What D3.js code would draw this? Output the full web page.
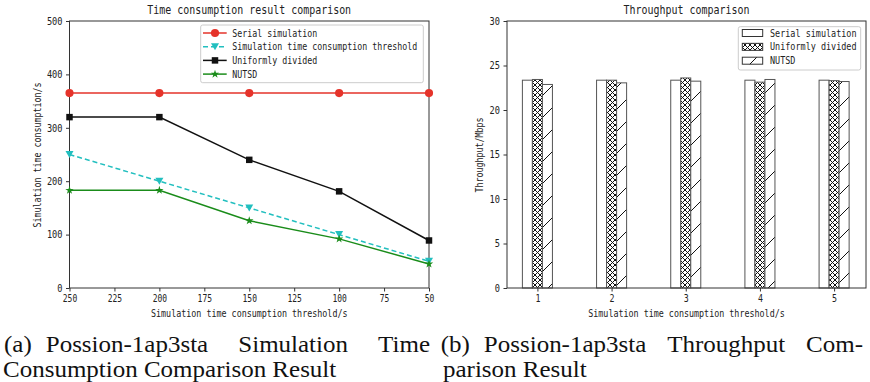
<!DOCTYPE html>
<html>
<head>
<meta charset="utf-8">
<script src="https://cdn.jsdelivr.net/npm/d3@7"></script>
<style>
  body { margin: 0; background: #fff; }
  svg { display: block; }
  .mono { font-family: "DejaVu Sans Mono", "Liberation Mono", monospace; fill: #222; }
  .cap { font-family: "Liberation Serif", "Times New Roman", serif; font-size: 23.5px; fill: #111; }
</style>
</head>
<body>
<div id="chart"></div>
<script>
// ---- data (a): simulation time consumption
const thresholds = [250, 200, 150, 100, 50];
const serialTime = [365, 365, 365, 365, 365];
const thresholdTime = [250, 200, 150, 100, 50];
const uniformTime = [320, 320, 240, 181, 89];
const nutsdTime = [183, 183, 126, 92, 45];
const timeTicks = [250, 225, 200, 175, 150, 125, 100, 75, 50];

// ---- data (b): throughput
const groups = [1, 2, 3, 4, 5];
const serialTp = [23.35, 23.35, 23.35, 23.35, 23.35];
const uniformTp = [23.43, 23.35, 23.6, 23.13, 23.3];
const nutsdTp = [22.87, 23.05, 23.24, 23.43, 23.2];

// ---- subcaption lines
const captionA = ["(a) Possion-1ap3sta Simulation Time", "Consumption Comparison Result"];
const captionB = ["(b) Possion-1ap3sta Throughput Com-", "parison Result"];

const W = 870, H = 382;
const svg = d3.select("#chart").append("svg").attr("width", W).attr("height", H);

// SimHei-like narrow text: a monospace font squeezed horizontally to a fixed char width
function mono(sel, size, charW) {
  const sx = charW / (0.602 * size);
  sel.attr("class", "mono")
     .style("font-size", size + "px")
     .each(function() {
       const t = d3.select(this);
       const x = +(t.attr("x") || 0);
       const tr = t.attr("transform") || "";
       t.attr("x", x / sx).attr("transform", `${tr} scale(${sx},1)`);
     });
  return sel;
}

const defs = svg.append("defs");
defs.append("pattern").attr("id", "xx").attr("patternUnits", "userSpaceOnUse")
  .attr("width", 5).attr("height", 5)
  .call(p => {
    p.append("path").attr("d", "M0,0L5,5M5,0L0,5M-1,4L1,6M4,-1L6,1M-1,1L1,-1M4,6L6,4")
      .attr("stroke", "#111").attr("stroke-width", 1);
  });
defs.append("pattern").attr("id", "slash").attr("patternUnits", "userSpaceOnUse")
  .attr("width", 22).attr("height", 22)
  .call(p => {
    p.append("path").attr("d", "M0,22L22,0M-2,2L2,-2M20,24L24,20")
      .attr("stroke", "#111").attr("stroke-width", 1);
  });

// ================= (a) line chart =================
const A = {left: 69.5, right: 429, top: 21, bottom: 288};
const xa = d3.scaleLinear().domain([250, 50]).range([A.left, A.right]);
const ya = d3.scaleLinear().domain([0, 500]).range([A.bottom, A.top]);

const gA = svg.append("g");
gA.append("g").attr("transform", `translate(0,${A.bottom})`)
  .call(d3.axisBottom(xa).tickValues(timeTicks).tickSize(3.5).tickPadding(3.5).tickFormat(d3.format("d")))
  .call(g => g.select(".domain").remove())
  .call(g => g.selectAll("line").attr("stroke", "#333"))
  .call(g => mono(g.selectAll("text"), 10, 4.8));
gA.append("g").attr("transform", `translate(${A.left},0)`)
  .call(d3.axisLeft(ya).ticks(5).tickSize(3.5).tickPadding(3.5))
  .call(g => g.select(".domain").remove())
  .call(g => g.selectAll("line").attr("stroke", "#333"))
  .call(g => mono(g.selectAll("text"), 10, 5.2));
gA.append("rect").attr("x", A.left).attr("y", A.top)
  .attr("width", A.right - A.left).attr("height", A.bottom - A.top)
  .attr("fill", "none").attr("stroke", "#333").attr("stroke-width", 1);

const seriesA = [
  {name: "Serial simulation", vals: serialTime, color: "#e5332a", dash: null, sym: d3.symbolCircle, size: 52},
  {name: "Simulation time consumption threshold", vals: thresholdTime, color: "#22bfbf", dash: "5,3", sym: "tri", size: 40},
  {name: "Uniformly divided", vals: uniformTime, color: "#111", dash: null, sym: d3.symbolSquare, size: 42},
  {name: "NUTSD", vals: nutsdTime, color: "#1a8c1a", dash: null, sym: d3.symbolStar, size: 22}
];
function marker(g, s, x, y) {
  if (s.sym === "tri") {
    g.append("path").attr("d", "M-4,-3.5L4,-3.5L0,3.5Z").attr("transform", `translate(${x},${y})`).attr("fill", s.color);
  } else {
    g.append("path").attr("d", d3.symbol().type(s.sym).size(s.size)()).attr("transform", `translate(${x},${y})`).attr("fill", s.color);
  }
}
const lineA = d3.line().x((d, i) => xa(thresholds[i])).y(d => ya(d));
seriesA.forEach(s => {
  gA.append("path").datum(s.vals).attr("d", lineA).attr("fill", "none")
    .attr("stroke", s.color).attr("stroke-width", 1.5).attr("stroke-dasharray", s.dash);
  s.vals.forEach((v, i) => marker(gA, s, xa(thresholds[i]), ya(v)));
});

mono(gA.append("text").attr("x", (A.left + A.right) / 2).attr("y", 14).attr("text-anchor", "middle")
  .text("Time consumption result comparison"), 12, 6);
mono(gA.append("text").attr("x", (A.left + A.right) / 2).attr("y", 317).attr("text-anchor", "middle")
  .text("Simulation time consumption threshold/s"), 10, 5.04);
mono(gA.append("text").attr("transform", "translate(40.5,155) rotate(-90)").attr("text-anchor", "middle")
  .text("Simulation time consumption/s"), 10, 5.0);

// legend (a)
const legA = gA.append("g");
legA.append("rect").attr("x", 200.7).attr("y", 25).attr("width", 222.6).attr("height", 57.7)
  .attr("rx", 2).attr("fill", "#fff").attr("fill-opacity", 0.85).attr("stroke", "#ccc");
seriesA.forEach((s, i) => {
  const y = 33 + i * 13.7;
  legA.append("line").attr("x1", 203).attr("x2", 226.7).attr("y1", y).attr("y2", y)
    .attr("stroke", s.color).attr("stroke-width", 1.5).attr("stroke-dasharray", s.dash);
  marker(legA, s, 215, y);
  mono(legA.append("text").attr("x", 232.3).attr("y", y).attr("dy", "0.36em").text(s.name), 10, 5.0);
});

// ================= (b) bar chart =================
const B = {left: 507, right: 866, top: 21, bottom: 288};
const xb = d3.scaleLinear().domain([0.59, 5.43]).range([B.left, B.right]);
const yb = d3.scaleLinear().domain([0, 30]).range([B.bottom, B.top]);
const bw = 0.135;

const gB = svg.append("g");
gB.append("g").attr("transform", `translate(0,${B.bottom})`)
  .call(d3.axisBottom(xb).tickValues(groups).tickSize(3.5).tickPadding(3.5).tickFormat(d3.format("d")))
  .call(g => g.select(".domain").remove())
  .call(g => g.selectAll("line").attr("stroke", "#333"))
  .call(g => mono(g.selectAll("text"), 10, 5));
gB.append("g").attr("transform", `translate(${B.left},0)`)
  .call(d3.axisLeft(yb).ticks(6).tickSize(3.5).tickPadding(3.5))
  .call(g => g.select(".domain").remove())
  .call(g => g.selectAll("line").attr("stroke", "#333"))
  .call(g => mono(g.selectAll("text"), 10, 5.2));

const seriesB = [
  {name: "Serial simulation", vals: serialTp, fill: "#fff", off: -1},
  {name: "Uniformly divided", vals: uniformTp, fill: "url(#xx)", off: 0},
  {name: "NUTSD", vals: nutsdTp, fill: "url(#slash)", off: 1}
];
seriesB.forEach(s => {
  gB.selectAll(null).data(s.vals).join("rect")
    .attr("x", (d, i) => xb(groups[i] + s.off * bw - bw / 2))
    .attr("width", xb(bw) - xb(0))
    .attr("y", d => yb(d))
    .attr("height", d => yb(0) - yb(d))
    .attr("fill", "#fff").attr("stroke", "none");
  gB.selectAll(null).data(s.vals).join("rect")
    .attr("x", (d, i) => xb(groups[i] + s.off * bw - bw / 2))
    .attr("width", xb(bw) - xb(0))
    .attr("y", d => yb(d))
    .attr("height", d => yb(0) - yb(d))
    .attr("fill", s.fill).attr("stroke", "#555").attr("stroke-width", 1);
});
gB.append("rect").attr("x", B.left).attr("y", B.top)
  .attr("width", B.right - B.left).attr("height", B.bottom - B.top)
  .attr("fill", "none").attr("stroke", "#333").attr("stroke-width", 1);

mono(gB.append("text").attr("x", (B.left + B.right) / 2).attr("y", 14).attr("text-anchor", "middle")
  .text("Throughput comparison"), 12, 6);
mono(gB.append("text").attr("x", (B.left + B.right) / 2).attr("y", 317).attr("text-anchor", "middle")
  .text("Simulation time consumption threshold/s"), 10, 5.04);
mono(gB.append("text").attr("transform", "translate(482.5,155) rotate(-90)").attr("text-anchor", "middle")
  .text("Throughput/Mbps"), 10, 5.0);

// legend (b)
const legB = gB.append("g");
legB.append("rect").attr("x", 738.3).attr("y", 26.7).attr("width", 122.4).attr("height", 43.3)
  .attr("rx", 2).attr("fill", "#fff").attr("fill-opacity", 0.85).attr("stroke", "#ccc");
seriesB.forEach((s, i) => {
  const y = 33 + i * 13.85;
  legB.append("rect").attr("x", 742.3).attr("y", y - 3.5).attr("width", 20.4).attr("height", 7)
    .attr("fill", "#fff");
  legB.append("rect").attr("x", 742.3).attr("y", y - 3.5).attr("width", 20.4).attr("height", 7)
    .attr("fill", s.fill).attr("stroke", "#333").attr("stroke-width", 1);
  mono(legB.append("text").attr("x", 770).attr("y", y).attr("dy", "0.36em").text(s.name), 10, 5.1);
});

// ================= captions (LaTeX-style justified subcaptions) =================
const capG = svg.append("g");
function measure(str) {
  const t = capG.append("text").attr("class", "cap").text(str);
  const w = t.node().getComputedTextLength();
  t.remove();
  return w;
}
// widen Times-like glyphs to Computer Modern proportions ("parison Result" ~ 143.7px)
const k = 143.7 / measure(captionB[1]);
const spaceW = measure("a a") - measure("aa");
const labelGap = 14; // fixed gap after the "(a)"/"(b)" label
function setLine(str, x0, x1, y) {
  const words = str.split(" ");
  const ws = words.map(w => measure(w) * k);
  let gaps;
  if (x1 == null) {
    gaps = words.map(() => spaceW * k);
  } else {
    const rest = (x1 - x0 - d3.sum(ws) - labelGap) / (words.length - 2);
    gaps = words.map((w, i) => i === 0 ? labelGap : rest);
  }
  let x = x0;
  words.forEach((w, i) => {
    capG.append("text").attr("class", "cap").attr("x", x).attr("y", y)
      .attr("textLength", ws[i]).attr("lengthAdjust", "spacingAndGlyphs").text(w);
    x += ws[i] + gaps[i];
  });
}
setLine(captionA[0], 4, 430, 352);
setLine(captionA[1], 3, null, 377);
setLine(captionB[0], 440.7, 863, 352);
setLine(captionB[1], 443, null, 377);
</script>
</body>
</html>
